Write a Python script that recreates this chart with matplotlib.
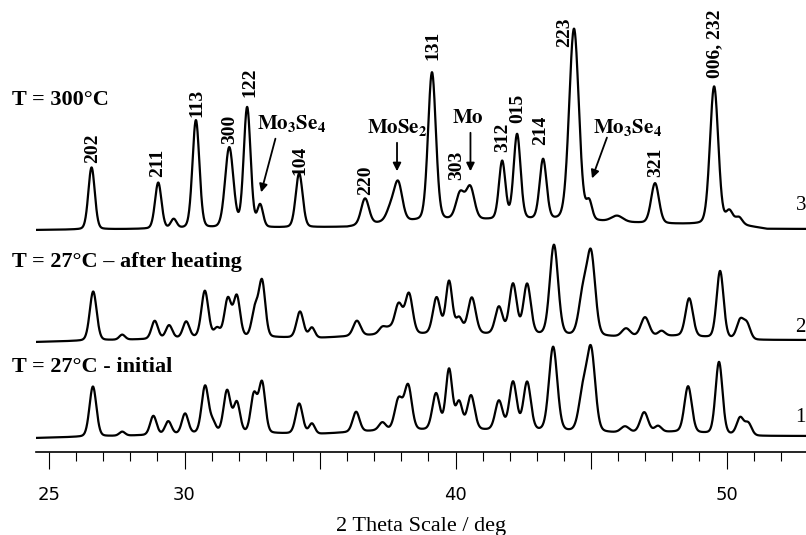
import numpy as np
import matplotlib.pyplot as plt

plt.rcParams['mathtext.fontset'] = 'stix'

# peak lists: position (deg), height (px above background), fwhm (deg)
# T = 300 C
pos_300 = [26.57, 29.03, 29.6, 30.42, 31.65, 32.31, 32.79, 34.23, 36.66, 37.6, 37.88,
           39.13, 40.17, 40.54, 41.72, 42.27, 43.23, 44.37, 44.93, 45.96, 47.36, 49.54,
           50.1, 50.45]
hgt_300 = [62, 46, 9, 108, 80, 120, 22, 54, 26, 12, 38,
           148, 26, 32, 58, 85, 60, 192, 18, 6, 40, 138,
           13, 7]
wid_300 = [0.28, 0.28, 0.25, 0.3, 0.36, 0.3, 0.25, 0.3, 0.34, 0.36, 0.36,
           0.34, 0.36, 0.36, 0.28, 0.3, 0.3, 0.42, 0.25, 0.5, 0.34, 0.36,
           0.3, 0.3]
bg_pos_300 = [24.5, 33.0, 36.0, 37.5, 40.0, 43.0, 45.5, 48.0, 50.5, 51.5, 53.0]
bg_lvl_300 = [0, 2, 3, 8, 10, 10, 8, 6, 5, 1, 1]

# T = 27 C, after heating
pos_27h = [26.63, 27.7, 28.9, 29.43, 30.06, 30.75, 31.2, 31.6, 31.93, 32.6, 32.86,
           34.26, 34.7, 36.36, 37.3, 37.55, 37.9, 38.28, 39.3, 39.76, 40.13, 40.6,
           41.6, 42.12, 42.64, 43.63, 44.7, 45.0, 46.29, 46.99, 47.6, 48.62, 49.76,
           50.5, 50.75]
hgt_27h = [49, 5, 18, 13, 16, 46, 8, 38, 40, 27, 55,
           26, 10, 15, 7, 5, 30, 40, 36, 52, 15, 36,
           27, 50, 50, 90, 40, 80, 8, 19, 5, 38, 67,
           18, 15]
wid_27h = [0.3, 0.25, 0.28, 0.28, 0.28, 0.3, 0.25, 0.3, 0.28, 0.28, 0.28,
           0.3, 0.25, 0.32, 0.3, 0.3, 0.34, 0.32, 0.32, 0.28, 0.28, 0.34,
           0.32, 0.32, 0.32, 0.36, 0.36, 0.36, 0.36, 0.36, 0.3, 0.32, 0.3,
           0.3, 0.3]
bg_pos_27h = [24.5, 29.0, 31.0, 35.0, 37.0, 40.0, 43.0, 46.0, 48.2, 51.0, 53.0]
bg_lvl_27h = [0, 3, 5, 4, 7, 8, 7, 5, 6, 2, 2]

# T = 27 C, initial
pos_27i = [26.62, 27.7, 28.85, 29.4, 30.02, 30.76, 31.05, 31.57, 31.93, 32.56, 32.86,
           34.23, 34.7, 36.33, 37.3, 37.9, 38.25, 39.28, 39.76, 40.13, 40.57,
           41.6, 42.12, 42.64, 43.6, 44.7, 45.0, 46.25, 46.96, 47.47, 48.58, 49.72,
           50.5, 50.8]
hgt_27i = [50, 4, 19, 13, 20, 47, 9, 42, 30, 38, 50,
           30, 10, 20, 8, 31, 44, 36, 60, 27, 34,
           29, 48, 48, 84, 38, 80, 6, 20, 6, 46, 72,
           17, 12]
wid_27i = [0.3, 0.25, 0.28, 0.28, 0.28, 0.3, 0.25, 0.3, 0.28, 0.28, 0.28,
           0.3, 0.25, 0.3, 0.3, 0.34, 0.32, 0.32, 0.28, 0.28, 0.32,
           0.32, 0.32, 0.32, 0.36, 0.36, 0.36, 0.36, 0.34, 0.3, 0.32, 0.3,
           0.3, 0.3]
bg_pos_27i = [24.5, 29.0, 31.0, 35.0, 37.0, 40.0, 43.0, 46.0, 48.2, 51.0, 53.0]
bg_lvl_27i = [0, 3, 5, 4, 7, 8, 7, 5, 6, 2, 2]

traces = [
    (pos_300, hgt_300, wid_300, bg_pos_300, bg_lvl_300, 222),
    (pos_27h, hgt_27h, wid_27h, bg_pos_27h, bg_lvl_27h, 110),
    (pos_27i, hgt_27i, wid_27i, bg_pos_27i, bg_lvl_27i, 14),
]

# reflection labels on the 300 C pattern: text, x (deg), bottom of text (y units)
hkl_text = ['202', '211', '113', '300', '122', '104', '220', '131', '303',
            '312', '015', '214', '223', '321', '006, 232']
hkl_x = [26.6, 29.0, 30.45, 31.65, 32.4, 34.27, 36.67, 39.17, 40.05,
         41.75, 42.3, 43.13, 44.04, 47.4, 49.55]
hkl_y = [289, 275, 335, 308, 355, 277, 257, 392, 272,
         300, 329, 307, 405, 275, 374]

phase_text = [r'$\mathbf{Mo_3Se_4}$', r'$\mathbf{MoSe_2}$', r'$\mathbf{Mo}$', r'$\mathbf{Mo_3Se_4}$']
phase_tx = [33.93, 37.84, 40.46, 46.33]
phase_ty = [328, 325, 335, 325]
arrow_from = [(33.38, 316), (37.84, 312), (40.55, 322), (45.62, 317)]
arrow_to = [(32.8, 257), (37.84, 278), (40.55, 278), (45.0, 271)]

trace_names = ['T = 300°C', 'T = 27°C – after heating', 'T = 27°C - initial']
name_y = [352, 190, 85]
side_num = ['3', '2', '1']
side_y = [247, 125, 34]

tick_pos = [25, 30, 35, 40, 45, 50]
tick_lab = ['25', '30', '', '40', '', '50']


def pattern(x, pos, hgt, wid, bg_pos, bg_lvl):
    y = np.interp(x, bg_pos, bg_lvl)
    eta = 0.15
    for p, h, w in zip(pos, hgt, wid):
        g = np.exp(-4 * np.log(2) * ((x - p) / w) ** 2)
        lo = 1 / (1 + 4 * ((x - p) / w) ** 2)
        y = y + h * ((1 - eta) * g + eta * lo)
    return y


fig = plt.figure(figsize=(8.06, 5.35), dpi=100)
ax = fig.add_axes([36 / 806, 83 / 535, 770 / 806, 452 / 535])
ax.set_xlim(24.52, 52.93)
ax.set_ylim(0, 452)

x = np.arange(24.52, 52.94, 0.01)
for pos, hgt, wid, bg_pos, bg_lvl, base in traces:
    ax.plot(x, base + pattern(x, pos, hgt, wid, bg_pos, bg_lvl), color='black', lw=1.6)

serif = 'Liberation Serif'
for t, tx, ty in zip(hkl_text, hkl_x, hkl_y):
    ax.text(tx, ty, t, rotation=90, ha='center', va='bottom', family=serif,
            fontweight='bold', fontsize=14)

for t, tx, ty in zip(phase_text, phase_tx, phase_ty):
    ax.text(tx, ty, t, ha='center', va='center', fontsize=15)
for a, b in zip(arrow_from, arrow_to):
    ax.annotate('', xy=b, xytext=a,
                arrowprops=dict(arrowstyle='-|>', color='black', lw=1.3, mutation_scale=12))

for t, ty in zip(trace_names, name_y):
    ax.text(23.63, ty, t, ha='left', va='center', family=serif, fontweight='bold',
            fontsize=16, clip_on=False)
for t, ty in zip(side_num, side_y):
    ax.text(52.93, ty, t, ha='right', va='center', family=serif, fontsize=15,
            clip_on=False)

for s in ['top', 'left', 'right']:
    ax.spines[s].set_visible(False)
ax.spines['bottom'].set_linewidth(1.2)
ax.set_yticks([])
ax.set_xticks(tick_pos)
ax.set_xticklabels(tick_lab, family=['Liberation Sans Narrow', 'DejaVu Sans'], fontsize=13)
ax.set_xticks(np.arange(25, 53, 1), minor=True)
ax.tick_params(axis='x', which='major', length=12.5, width=0.8, pad=12)
ax.tick_params(axis='x', which='minor', length=6.5, width=0.8)
ax.set_xlabel('2 Theta Scale / deg', family=serif, fontsize=16, labelpad=9)

fig.savefig('out.png', dpi=100)
